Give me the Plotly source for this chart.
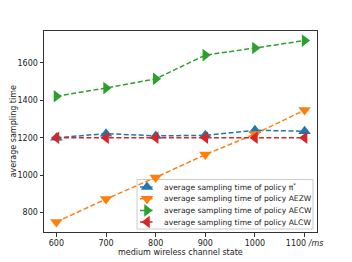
import plotly.graph_objects as go

x_vals = [600, 700, 800, 900, 1000, 1100]
x_ticklabels = ["600", "700", "800", "900", "1000", "1100 <i>/ms</i>"]
pi_star = [1200, 1222, 1210, 1213, 1240, 1235]
aezw = [750, 872, 988, 1110, 1220, 1348]
aecw = [1422, 1466, 1515, 1642, 1680, 1720]
alcw = [1200, 1200, 1200, 1200, 1200, 1200]

names = [
    "average sampling time of policy π<sup>*</sup>",
    "average sampling time of policy AEZW",
    "average sampling time of policy AECW",
    "average sampling time of policy ALCW",
]
series = [pi_star, aezw, aecw, alcw]
colors = ["#1f77b4", "#ff7f0e", "#2ca02c", "#d62728"]
symbols = ["triangle-up", "triangle-down", "triangle-right", "triangle-left"]

W, H = 352, 262
ML, MR, MT, MB = 44, 35, 31, 30
PW, PH = W - ML - MR, H - MT - MB

DASH = "5px,2.5px"
MSIZE = 11

fig = go.Figure()
for n, s, c, sym in zip(names, series, colors, symbols):
    fig.add_trace(go.Scatter(
        x=x_vals, y=s, name=n, mode="lines+markers", showlegend=False,
        line=dict(color=c, width=1.5, dash=DASH),
        marker=dict(symbol=sym, size=MSIZE, color=c, line=dict(width=0)),
    ))

# matplotlib-style legend drawn on an invisible overlay axis (pixel units)
box_x0, box_x1, box_y0, box_y1 = 93, 269, 3, 52.5
entry_y = [45, 33.3, 21.6, 10]
line_x0, line_x1, mark_x, text_x = 96, 110, 103, 118

fig.add_shape(type="rect", xref="x2", yref="y2",
              x0=box_x0, x1=box_x1, y0=box_y0, y1=box_y1,
              fillcolor="rgba(255,255,255,0.85)", line=dict(color="#cccccc", width=1),
              layer="below")
for n, c, sym, yy in zip(names, colors, symbols, entry_y):
    fig.add_trace(go.Scatter(
        x=[line_x0, line_x1], y=[yy, yy], xaxis="x2", yaxis="y2",
        mode="lines", showlegend=False, hoverinfo="skip",
        line=dict(color=c, width=1.5, dash=DASH)))
    fig.add_trace(go.Scatter(
        x=[mark_x], y=[yy], xaxis="x2", yaxis="y2",
        mode="markers", showlegend=False, hoverinfo="skip",
        marker=dict(symbol=sym, size=MSIZE, color=c, line=dict(width=0))))
    fig.add_annotation(x=text_x, y=yy, xref="x2", yref="y2", text=n,
                       showarrow=False, xanchor="left", yanchor="middle",
                       font=dict(size=7.6, color="#222222"))

# axis titles (paper coordinates)
fig.add_annotation(x=(180.5 - ML) / PW, y=((H - MB) - 252) / PH, xref="paper", yref="paper",
                   text="medium wireless channel state",
                   showarrow=False, xanchor="center", yanchor="middle",
                   font=dict(size=8, color="#222222"))
fig.add_annotation(x=(13 - ML) / PW, y=0.5, xref="paper", yref="paper",
                   text="average sampling time",
                   showarrow=False, textangle=-90, xanchor="center", yanchor="middle",
                   font=dict(size=8, color="#222222"))

axis_common = dict(
    showline=True, linecolor="#333333", linewidth=1, mirror=True,
    ticks="outside", ticklen=3.5, tickwidth=1, tickcolor="#333333",
    showgrid=False, zeroline=False, automargin=False,
    tickfont=dict(size=8, color="#222222"),
)

fig.update_layout(
    width=W, height=H,
    margin=dict(l=ML, r=MR, t=MT, b=MB),
    paper_bgcolor="white", plot_bgcolor="white",
    font=dict(family="DejaVu Sans", size=8, color="#222222"),
    showlegend=False,
    xaxis=dict(range=[575, 1125], tickvals=x_vals, ticktext=x_ticklabels, **axis_common),
    yaxis=dict(range=[696, 1771], tickvals=[800, 1000, 1200, 1400, 1600], **axis_common),
    xaxis2=dict(overlaying="x", range=[0, PW], visible=False, fixedrange=True),
    yaxis2=dict(overlaying="y", range=[0, PH], visible=False, fixedrange=True),
)

fig.write_html(
    "out.html",
    config={"displayModeBar": False},
    post_script="document.body.style.margin='0';document.body.style.padding='0';document.body.style.overflow='hidden';",
)
